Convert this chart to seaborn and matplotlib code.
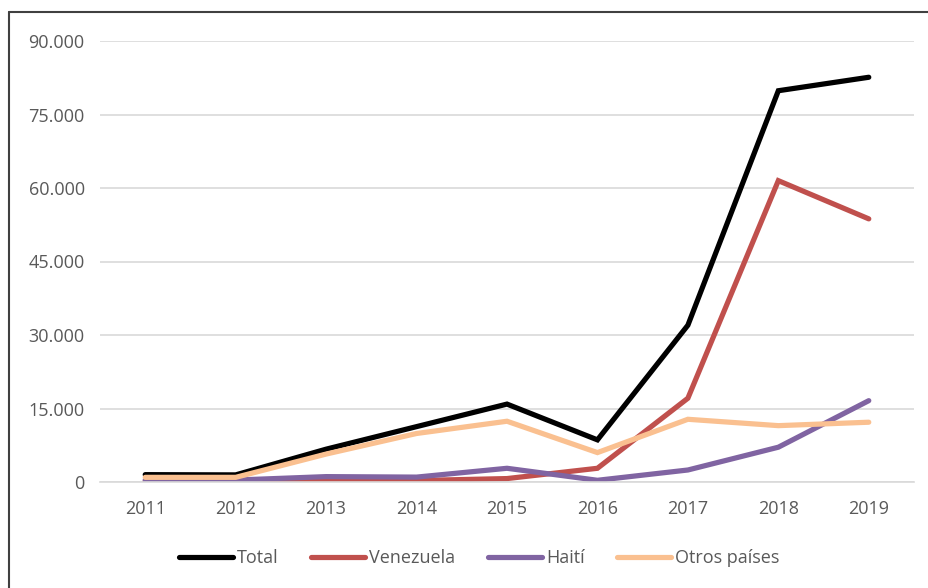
import numpy as np
import pandas as pd
import seaborn as sns
import matplotlib.pyplot as plt
from matplotlib.lines import Line2D
from matplotlib.ticker import FuncFormatter

sns.set_style('white')
plt.rcParams['font.family'] = ['Open Sans', 'DejaVu Sans']

years = ['2011', '2012', '2013', '2014', '2015', '2016', '2017', '2018', '2019']
total = [1500, 1450, 6700, 11300, 15900, 8600, 32000, 79850, 82600]
venezuela = [150, 150, 100, 300, 700, 2800, 17100, 61500, 53700]
haiti = [400, 400, 1100, 1000, 2800, 350, 2450, 7100, 16600]
otros = [950, 950, 5700, 9900, 12400, 6000, 12800, 11500, 12200]

series = ['Total', 'Venezuela', 'Haití', 'Otros países']
colors = ['#000000', '#C0504D', '#8064A2', '#FAC090']

df = pd.DataFrame({'year': years, 'Total': total, 'Venezuela': venezuela,
                   'Haití': haiti, 'Otros países': otros})
df = df.melt(id_vars='year', var_name='serie', value_name='valor')

fig = plt.figure(figsize=(9.29, 5.88), dpi=100)
ax = fig.add_axes([100 / 929, 1 - 482 / 588, 814 / 929, 441 / 588])

sns.lineplot(data=df, x='year', y='valor', hue='serie', hue_order=series,
             palette=colors, linewidth=3.75, sort=False, ax=ax, legend=False)
for ln in ax.lines:
    ln.set_solid_capstyle('round')
    ln.set_solid_joinstyle('miter')

ax.set_xlim(-0.5, 8.5)
ax.set_ylim(0, 90000)
ax.set_yticks(np.arange(0, 90001, 15000))
ax.yaxis.set_major_formatter(FuncFormatter(lambda v, p: f'{int(v):,}'.replace(',', '.')))
ax.grid(axis='y', color='#D9D9D9', linewidth=1.2)
ax.set_axisbelow(True)
for s in ['top', 'right', 'left']:
    ax.spines[s].set_visible(False)
ax.spines['bottom'].set_color('#D9D9D9')
ax.spines['bottom'].set_linewidth(1.2)
ax.tick_params(axis='both', length=0, labelsize=13, labelcolor='#595959')
ax.tick_params(axis='y', pad=11)
ax.tick_params(axis='x', pad=13)
ax.set_xlabel('')
ax.set_ylabel('')

handles = [Line2D([0], [0], color=c, linewidth=3.75, solid_capstyle='round') for c in colors]
leg = fig.legend(handles, series, loc='center', bbox_to_anchor=(479 / 929, 1 - 558 / 588),
                 ncol=4, frameon=False, fontsize=13, handlelength=3.0,
                 handletextpad=0.22, columnspacing=1.8, borderpad=0, borderaxespad=0)
for t in leg.get_texts():
    t.set_color('#595959')

# outer frame (left and top edges visible)
fig.add_artist(Line2D([9 / 929, 9 / 929], [0, 1 - 12 / 588], color='#404040',
                      linewidth=1.5, transform=fig.transFigure))
fig.add_artist(Line2D([9 / 929, 1], [1 - 12 / 588, 1 - 12 / 588], color='#404040',
                      linewidth=1.5, transform=fig.transFigure))

fig.savefig('out.png', dpi=100)
